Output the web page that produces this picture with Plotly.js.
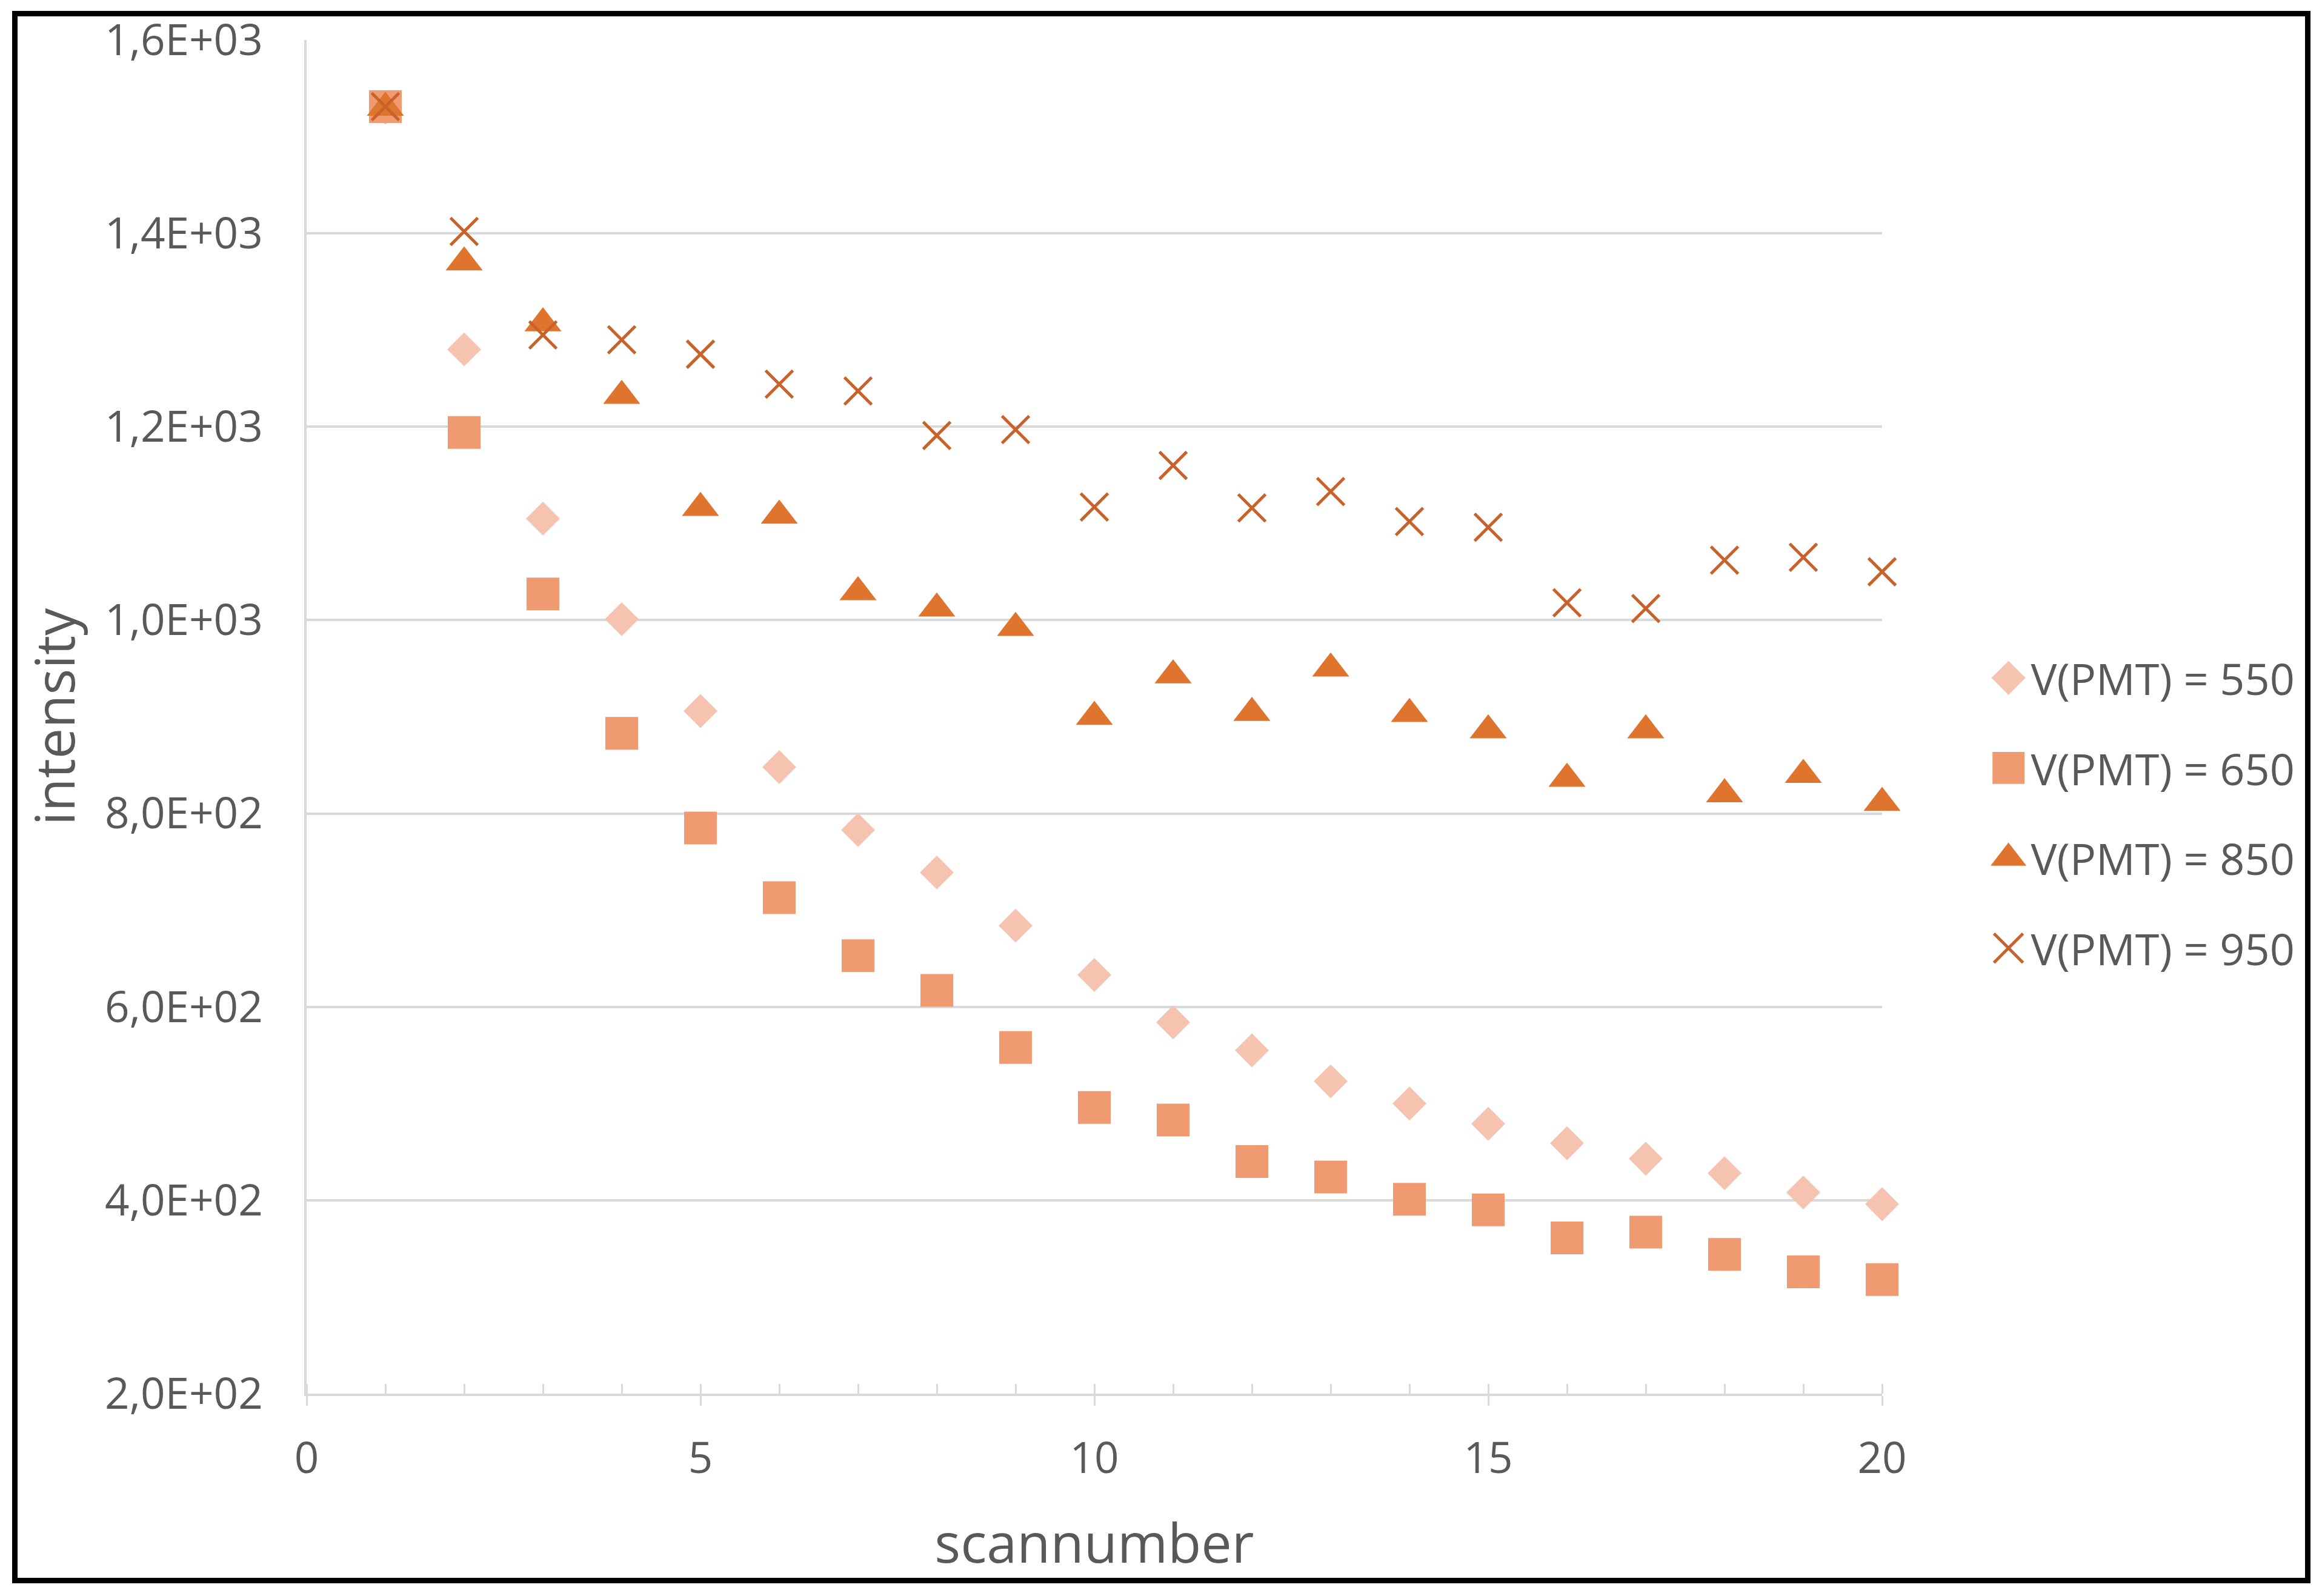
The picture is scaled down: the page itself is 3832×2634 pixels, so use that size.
<!DOCTYPE html>
<html>
<head>
<meta charset="utf-8">
<script src="https://cdn.plot.ly/plotly-3.0.1.min.js"></script>
<style>
  html, body { margin: 0; padding: 0; background: #ffffff; }
  #wrap { position: relative; width: 3832px; height: 2634px; }
  #chart { position: absolute; left: 0; top: 0; width: 3832px; height: 2634px; }
  #frame { position: absolute; left: 20px; top: 18px; width: 3793px; height: 2595px;
           box-sizing: border-box; border: 9px solid #000; pointer-events: none; }
</style>
</head>
<body>
<div id="wrap">
  <div id="chart"></div>
  <div id="frame"></div>
</div>
<script>
// ---- data ----
const scanNumber = [1,2,3,4,5,6,7,8,9,10,11,12,13,14,15,16,17,18,19,20];

const seriesNames = ['V(PMT) = 550', 'V(PMT) = 650', 'V(PMT) = 850', 'V(PMT) = 950'];

const intensity550 = [1530,1280,1105,1001,906,848,783,739,684,633,584,555,523,500,479,459,443,428,408,396];
const intensity650 = [1531,1194,1027,883,785,713,653,617,558,496,483,440,424,401,390,361,367,344,326,318];
const intensity850 = [1530,1370,1307,1232,1116,1108,1029,1012,992,900,943,904,950,903,886,836,886,820,840,811];
const intensity950 = [1531,1402,1295,1290,1275,1244,1237,1191,1197,1117,1160,1116,1133,1102,1096,1018,1012,1062,1065,1050];

const yTickVals = [200,400,600,800,1000,1200,1400,1600];
const yTickText = ['2,0E+02','4,0E+02','6,0E+02','8,0E+02','1,0E+03','1,2E+03','1,4E+03','1,6E+03'];
const xTickVals = [0,5,10,15,20];
const xTickText = ['0','5','10','15','20'];

// ---- styling ----
const colors = ['#F5C3B0', '#F09A72', '#DF742E', '#C8622A'];
const symbols = ['diamond', 'square', 'triangle-up', 'x-thin-open'];
const sizes = [43, 54, 53, 45];
const legendScale = [2.7, 3.3, 3.2, 3.0];

const ys = [intensity550, intensity650, intensity850, intensity950];

const traces = ys.map(function (y, i) {
  const marker = { color: colors[i], symbol: symbols[i], size: sizes[i] };
  if (symbols[i] === 'x-thin-open') {
    marker.line = { color: colors[i], width: 5 };
  } else {
    marker.line = { width: 0 };
  }
  return {
    type: 'scatter',
    mode: 'markers',
    name: seriesNames[i],
    legendgroup: 'g' + i,
    x: scanNumber,
    y: y,
    marker: marker,
    cliponaxis: false,
    xaxis: 'x',
    yaxis: 'y'
  };
});

const gridColor = '#D9D9D9';
const textGrey = '#595959';
const tickFont = { family: 'Open Sans, sans-serif', size: 71, color: textGrey };

const layout = {
  width: 3832,
  height: 2634,
  paper_bgcolor: '#ffffff',
  plot_bgcolor: '#ffffff',
  margin: { l: 506, r: 726, t: 66, b: 334, autoexpand: false },
  showlegend: true,
  legend: {
    x: 1.066,
    xanchor: 'left',
    y: 0.4288,
    yanchor: 'middle',
    font: { family: 'Open Sans, sans-serif', size: 72, color: textGrey },
    tracegroupgap: 52,
    itemwidth: 64,
    bgcolor: 'rgba(0,0,0,0)',
    borderwidth: 0
  },
  xaxis: {
    range: [0, 20],
    autorange: false,
    tickmode: 'array',
    tickvals: xTickVals,
    ticktext: xTickText,
    tickfont: tickFont,
    ticks: 'outside',
    ticklen: 16,
    tickwidth: 3,
    tickcolor: gridColor,
    minor: { ticks: 'inside', dtick: 1, ticklen: 16, tickwidth: 3, tickcolor: gridColor, showgrid: false },
    ticklabelstandoff: 26,
    showline: true,
    linecolor: gridColor,
    linewidth: 4,
    showgrid: false,
    zeroline: false,
    title: { text: 'scannumber', font: { family: 'Open Sans, sans-serif', size: 90, color: textGrey }, standoff: 66 },
    automargin: false
  },
  xaxis2: {
    overlaying: 'x',
    matches: 'x',
    range: [0, 20],
    tickmode: 'array',
    tickvals: xTickVals,
    showticklabels: false,
    ticks: 'inside',
    ticklen: 16,
    tickwidth: 3,
    tickcolor: gridColor,
    showgrid: false,
    showline: false,
    zeroline: false,
    anchor: 'y',
    side: 'bottom'
  },
  yaxis: {
    range: [200, 1600],
    autorange: false,
    tickmode: 'array',
    tickvals: yTickVals,
    ticktext: yTickText,
    tickfont: tickFont,
    ticks: '',
    ticklabelstandoff: 54,
    showline: true,
    linecolor: gridColor,
    linewidth: 4,
    showgrid: true,
    gridcolor: gridColor,
    gridwidth: 4,
    zeroline: false,
    title: { text: 'intensity', font: { family: 'Open Sans, sans-serif', size: 90, color: textGrey }, standoff: 20 },
    automargin: false
  }
};

// invisible trace that activates the secondary x axis (upper halves of major ticks)
traces.push({ type: 'scatter', mode: 'markers', x: [], y: [], xaxis: 'x2', yaxis: 'y', showlegend: false, hoverinfo: 'skip' });

Plotly.newPlot('chart', traces, layout, { staticPlot: true, displayModeBar: false }).then(function (gd) {
  const items = gd.querySelectorAll('.legend .traces');
  items.forEach(function (it, i) {
    const p = it.querySelector('path.scatterpts');
    if (!p) return;
    const s = legendScale[i] || 1;
    const t = p.getAttribute('transform') || '';
    p.setAttribute('transform', t + ' scale(' + s + ')');
    if (symbols[i] === 'x-thin-open') {
      p.style.strokeWidth = (5 / s) + 'px';
    } else {
      p.style.strokeWidth = '0px';
    }
  });
});
</script>
</body>
</html>
